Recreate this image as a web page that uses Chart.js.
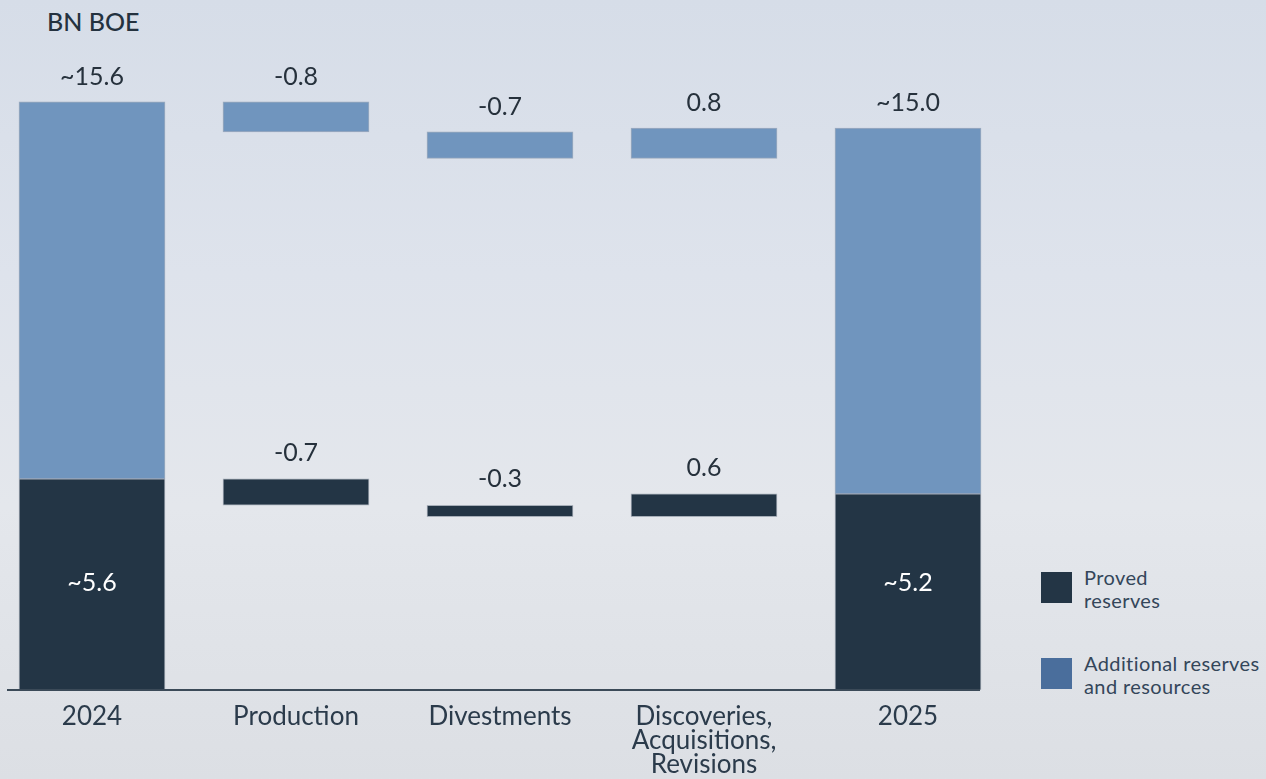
<!DOCTYPE html>
<html>
<head>
<meta charset="utf-8">
<script src="https://cdn.jsdelivr.net/npm/chart.js@4.4.1/dist/chart.umd.min.js"></script>
<style>
  html, body { margin: 0; padding: 0; }
  body {
    width: 1266px; height: 779px; overflow: hidden; position: relative;
    background: linear-gradient(to bottom, #d6dde8 0%, #dee3ec 35%, #e4e7ec 65%, #dcdfe4 100%);
    font-family: Lato, "Noto Sans", sans-serif;
  }
  #unit { position: absolute; left: 47px; top: 6px; font-size: 25px; font-weight: 500; color: #24323f; }
  #wrap { position: absolute; left: -10px; top: 0; width: 1020px; height: 779px; }
  .leg { position: absolute; left: 1041px; display: flex; align-items: flex-start; }
  .leg .sw { width: 31px; height: 31px; margin-top: 6px; }
  .leg .tx { margin-left: 12px; font-size: 20px; line-height: 23px; color: #34465a; letter-spacing: 0.4px; }
</style>
</head>
<body>
<div id="unit">BN BOE</div>
<div id="wrap"><canvas id="chart"></canvas></div>
<div class="leg" style="top:566px"><div class="sw" style="background:#233545"></div><div class="tx">Proved<br>reserves</div></div>
<div class="leg" style="top:652px"><div class="sw" style="background:#4a6e9c"></div><div class="tx">Additional reserves<br>and resources</div></div>
<script>
// categories
const categories = ['2024', 'Production', 'Divestments', ['Discoveries,', 'Acquisitions,', 'Revisions'], '2025'];

// floating ranges [bottom, top] in BN BOE
const provedRanges = [[0, 5.6], [4.9, 5.6], [4.6, 4.9], [4.6, 5.2], [0, 5.2]];
const additionalRanges = [[5.6, 15.6], [14.8, 15.6], [14.1, 14.8], [14.1, 14.9], [5.2, 14.9]];

// labels shown on the bars
const provedLabels = ['~5.6', '-0.7', '-0.3', '0.6', '~5.2'];
const additionalLabels = ['~15.6', '-0.8', '-0.7', '0.8', '~15.0'];

const yMax = 17;

// dibuja etiquetas y la linea base
const labelPlugin = {
  id: 'labels',
  afterDatasetsDraw(chart) {
    const ctx = chart.ctx;
    const y = chart.scales.y;
    ctx.save();
    ctx.textAlign = 'center';
    ctx.textBaseline = 'middle';
    ctx.font = '25px Lato, "Noto Sans", sans-serif';

    chart.getDatasetMeta(0).data.forEach((bar, i) => {
      const r = provedRanges[i];
      if (r[0] === 0) {
        ctx.fillStyle = '#ffffff';
        ctx.fillText(provedLabels[i], bar.x, y.getPixelForValue(2.85));
      } else {
        ctx.fillStyle = '#26313c';
        ctx.fillText(provedLabels[i], bar.x, y.getPixelForValue(r[1]) - 26);
      }
    });
    chart.getDatasetMeta(1).data.forEach((bar, i) => {
      const r = additionalRanges[i];
      ctx.fillStyle = '#26313c';
      ctx.fillText(additionalLabels[i], bar.x, y.getPixelForValue(r[1]) - 25);
    });

    // eje x
    const base = y.getPixelForValue(0);
    ctx.strokeStyle = '#3b4a58';
    ctx.lineWidth = 2;
    ctx.beginPath();
    ctx.moveTo(17, base);
    ctx.lineTo(990, base);
    ctx.stroke();
    ctx.restore();
  }
};

new Chart(document.getElementById('chart'), {
  type: 'bar',
  data: {
    labels: categories,
    datasets: [
      {
        label: 'Proved reserves',
        data: provedRanges,
        backgroundColor: '#233545',
        borderColor: 'rgba(140,150,162,0.7)',
        borderWidth: 1,
        borderSkipped: false,
        barThickness: 146
      },
      {
        label: 'Additional reserves and resources',
        data: additionalRanges,
        backgroundColor: '#7095be',
        borderColor: 'rgba(150,165,185,0.9)',
        borderWidth: 1,
        borderSkipped: false,
        barThickness: 146
      }
    ]
  },
  options: {
    responsive: true,
    maintainAspectRatio: false,
    animation: false,
    layout: { padding: { top: 49, left: 0, right: 0, bottom: 0 } },
    plugins: {
      legend: { display: false },
      tooltip: { enabled: false }
    },
    scales: {
      x: {
        stacked: true,
        grid: { display: false, drawTicks: false },
        border: { display: false },
        afterFit(scale) { scale.height = 89; },
        ticks: {
          padding: 14,
          color: '#2b3b4b',
          font: { family: 'Lato, "Noto Sans", sans-serif', size: 26, lineHeight: 0.94 },
          maxRotation: 0,
          autoSkip: false
        }
      },
      y: {
        display: false,
        min: 0,
        max: yMax
      }
    }
  },
  plugins: [labelPlugin]
});
</script>
</body>
</html>
